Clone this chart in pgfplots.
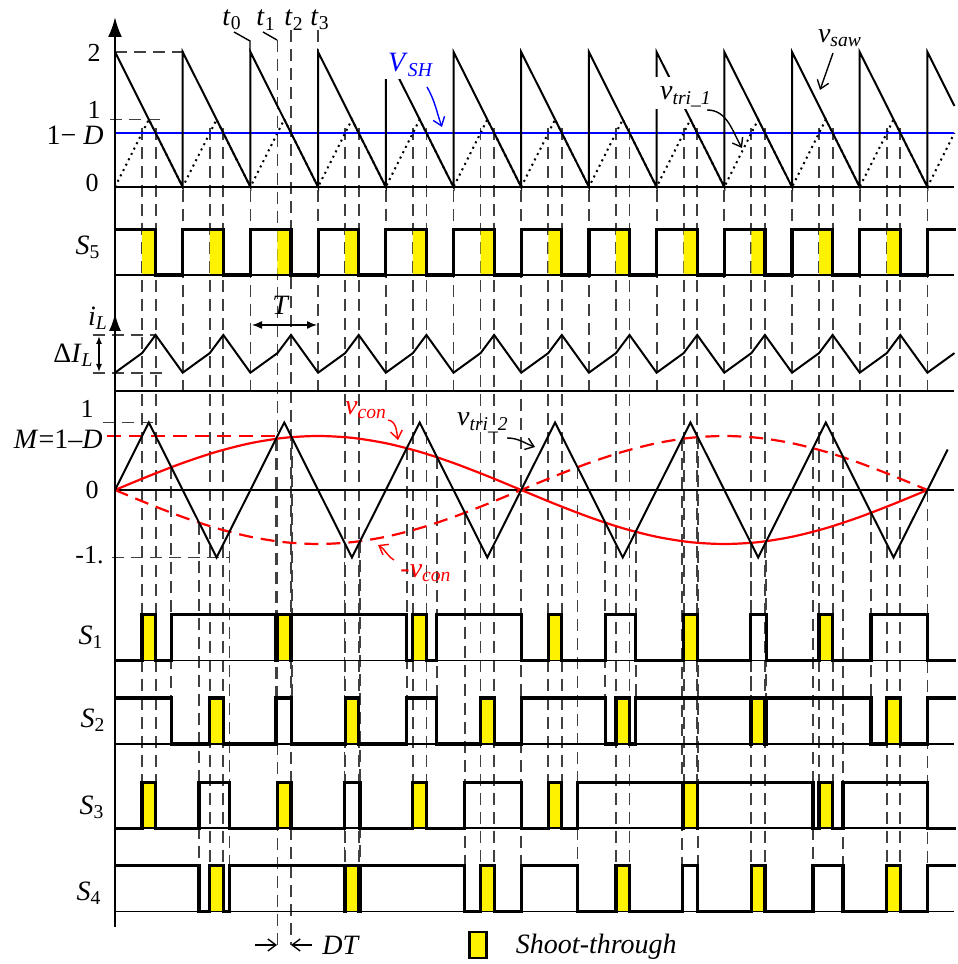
\documentclass[border=0pt]{standalone}
\usepackage{fontspec}
\setmainfont{Liberation Serif}
\usepackage{pgfplots}
\pgfplotsset{compat=1.18}
\usetikzlibrary{arrows.meta}
\pgfplotsset{
  saw/.style={y filter/.expression={-187+67.5*y}},
  sfive/.style={y filter/.expression={-275+45.7*y}},
  il/.style={y filter/.expression={-372.7+37.7*y}},
  tri/.style={y filter/.expression={-490+67.5*y}},
  sone/.style={y filter/.expression={-660.7+46*y}},
  stwo/.style={y filter/.expression={-744+46*y}},
  sthree/.style={y filter/.expression={-828.3+46*y}},
  sfour/.style={y filter/.expression={-911.7+46*y}},
  guide/.style={black!75, line width=0.9pt, dash pattern=on 6pt off 3.5pt},
  wave/.style={black, line width=1.6pt},
  st/.style={fill=yellow, draw=none},
  base/.style={black, line width=0.8pt},
}
\tikzset{
  lab/.style={font=\fontsize{14}{16}\selectfont, inner sep=0pt},
  num/.style={font=\fontsize{13}{15}\selectfont, inner sep=0pt},
  ann/.style={line width=0.7pt, -{Straight Barb[length=4pt,width=6pt]}},
}
\begin{document}
\begin{tikzpicture}
\begin{axis}[
  width=478pt, height=482pt, scale only axis,
  xmin=0, xmax=956, ymin=-964, ymax=0,
  hide axis, clip=false, no markers,
  x filter/.expression={115+67.7*x},
  unbounded coords=jump,
  legend style={at={(0.4895,0.0197)}, anchor=west, draw=none, fill=none, inner sep=0pt,
    font=\fontsize{14}{16}\selectfont\itshape,
    /tikz/every odd column/.append style={column sep=12pt}},
]
\addlegendimage{legend image code/.code={\draw[fill=yellow, line width=1.3pt] (0pt,-6.5pt) rectangle (8.5pt,6.5pt);}}
\addlegendentry{Shoot-through}

% ---------- dashed guide lines (x in T, y in px) ----------
\addplot[guide] coordinates {
(0.4,-128)(0.4,-828.3)(0.4,nan)
(0.6,-128)(0.6,-828.3)(0.6,nan)
(1.4,-128)(1.4,-911.7)(1.4,nan)
(1.6,-128)(1.6,-911.7)(1.6,nan)
(2.4,-40)(2.4,-945)(2.4,nan)
(2.6,-30)(2.6,-945)(2.6,nan)
(3.4,-128)(3.4,-911.7)(3.4,nan)
(3.6,-128)(3.6,-911.7)(3.6,nan)
(4.4,-128)(4.4,-828.3)(4.4,nan)
(4.6,-128)(4.6,-828.3)(4.6,nan)
(5.4,-128)(5.4,-911.7)(5.4,nan)
(5.6,-128)(5.6,-911.7)(5.6,nan)
(6.4,-128)(6.4,-828.3)(6.4,nan)
(6.6,-128)(6.6,-828.3)(6.6,nan)
(7.4,-128)(7.4,-911.7)(7.4,nan)
(7.6,-128)(7.6,-911.7)(7.6,nan)
(8.4,-128)(8.4,-828.3)(8.4,nan)
(8.6,-128)(8.6,-828.3)(8.6,nan)
(9.4,-128)(9.4,-911.7)(9.4,nan)
(9.6,-128)(9.6,-911.7)(9.6,nan)
(10.4,-128)(10.4,-828.3)(10.4,nan)
(10.6,-128)(10.6,-828.3)(10.6,nan)
(11.4,-128)(11.4,-911.7)(11.4,nan)
(11.6,-128)(11.6,-911.7)(11.6,nan)
(1,-190)(1,-391)(1,nan)
(2,-190)(2,-391)(2,nan)
(3,-30)(3,-52)(3,nan)
(3,-190)(3,-391)(3,nan)
(4,-190)(4,-391)(4,nan)
(5,-190)(5,-391)(5,nan)
(6,-190)(6,-911.7)(6,nan)
(7,-190)(7,-391)(7,nan)
(8,-190)(8,-391)(8,nan)
(9,-190)(9,-391)(9,nan)
(10,-190)(10,-391)(10,nan)
(11,-190)(11,-391)(11,nan)
(12,-190)(12,-391)(12,nan)
(12,-490)(12,-911.7)(12,nan)
(0.831,-467.3)(0.831,-744)(0.831,nan)
(2.379,-438.8)(2.379,-744)(2.379,nan)
(2.609,-437.1)(2.609,-744)(2.609,nan)
(4.31,-448.2)(4.31,-744)(4.31,nan)
(4.753,-457.2)(4.753,-744)(4.753,nan)
(7.242,-522.7)(7.242,-744)(7.242,nan)
(7.69,-531.9)(7.69,-744)(7.69,nan)
(9.391,-542.9)(9.391,-744)(9.391,nan)
(9.618,-541.1)(9.618,-744)(9.618,nan)
(11.168,-512.7)(11.168,-744)(11.168,nan)
(1.242,-522.7)(1.242,-911.7)(1.242,nan)
(1.69,-531.9)(1.69,-911.7)(1.69,nan)
(3.391,-542.9)(3.391,-911.7)(3.391,nan)
(3.618,-541.1)(3.618,-911.7)(3.618,nan)
(5.168,-512.7)(5.168,-911.7)(5.168,nan)
(6.831,-467.3)(6.831,-911.7)(6.831,nan)
(8.379,-438.8)(8.379,-911.7)(8.379,nan)
(8.609,-437.1)(8.609,-911.7)(8.609,nan)
(10.31,-448.2)(10.31,-911.7)(10.31,nan)
(10.753,-457.2)(10.753,-911.7)
};

% ---------- top panel: v_saw, v_tri_1, V_SH ----------
\addplot[saw, guide] coordinates {(0,2)(1.108,2)};
\addplot[saw, guide] coordinates {(-0.074,1)(0.694,1)};
\addplot[saw, black, line width=1.4pt] coordinates {(0,0)(12.4,0)};
\addplot[saw, black, line width=1pt, dotted] coordinates {
(0,0)(0.5,1)(1,0)(1.5,1)(2,0)(2.5,1)(3,0)(3.5,1)(4,0)(4.5,1)(5,0)(5.5,1)(6,0)(6.5,1)
(7,0)(7.5,1)(8,0)(8.5,1)(9,0)(9.5,1)(10,0)(10.5,1)(11,0)(11.5,1)(12,0)(12.4,0.8)};
\addplot[saw, blue, line width=1.3pt] coordinates {(0,0.8)(12.4,0.8)};
\addplot[saw, black, line width=1pt] coordinates {
(0,2)(1,0)(1,2)(2,0)(2,2)(3,0)(3,2)(4,0)(4,2)(5,0)(5,2)(6,0)(6,2)(7,0)(7,2)(8,0)
(8,2)(9,0)(9,2)(10,0)(10,2)(11,0)(11,2)(12,0)(12,2)(12.4,1.2)};

% ---------- S5 ----------
\addplot[sfive, st] coordinates {
(0,0)(0.4,0)(0.4,1)(0.6,1)(0.6,0)(1.4,0)(1.4,1)(1.6,1)(1.6,0)(2.4,0)(2.4,1)(2.6,1)(2.6,0)
(3.4,0)(3.4,1)(3.6,1)(3.6,0)(4.4,0)(4.4,1)(4.6,1)(4.6,0)(5.4,0)(5.4,1)(5.6,1)(5.6,0)
(6.4,0)(6.4,1)(6.6,1)(6.6,0)(7.4,0)(7.4,1)(7.6,1)(7.6,0)(8.4,0)(8.4,1)(8.6,1)(8.6,0)
(9.4,0)(9.4,1)(9.6,1)(9.6,0)(10.4,0)(10.4,1)(10.6,1)(10.6,0)(11.4,0)(11.4,1)(11.6,1)(11.6,0)};
\addplot[sfive, base] coordinates {(0,0)(12.4,0)};
\addplot[sfive, wave] coordinates {
(0,1)(0.6,1)(0.6,0)(1,0)(1,1)(1.6,1)(1.6,0)(2,0)(2,1)(2.6,1)(2.6,0)(3,0)(3,1)(3.6,1)(3.6,0)
(4,0)(4,1)(4.6,1)(4.6,0)(5,0)(5,1)(5.6,1)(5.6,0)(6,0)(6,1)(6.6,1)(6.6,0)(7,0)(7,1)(7.6,1)(7.6,0)
(8,0)(8,1)(8.6,1)(8.6,0)(9,0)(9,1)(9.6,1)(9.6,0)(10,0)(10,1)(10.6,1)(10.6,0)(11,0)(11,1)(11.6,1)(11.6,0)
(12,0)(12,1)(12.42,1)};

% ---------- i_L ----------
\addplot[il, guide] coordinates {(-0.325,1)(0.6,1)};
\addplot[il, guide] coordinates {(-0.325,0)(0.709,0)};
\addplot[black, line width=1.2pt] coordinates {(0,-391)(12.4,-391)};
\addplot[il, black, line width=1pt] coordinates {
(0,0)(0.4,0.52)(0.6,1)(1,0)(1.4,0.52)(1.6,1)(2,0)(2.4,0.52)(2.6,1)(3,0)(3.4,0.52)(3.6,1)
(4,0)(4.4,0.52)(4.6,1)(5,0)(5.4,0.52)(5.6,1)(6,0)(6.4,0.52)(6.6,1)(7,0)(7.4,0.52)(7.6,1)
(8,0)(8.4,0.52)(8.6,1)(9,0)(9.4,0.52)(9.6,1)(10,0)(10.4,0.52)(10.6,1)(11,0)(11.4,0.52)(11.6,1)
(12,0)(12.4,0.52)};

% ---------- v_tri_2, v_con, -v_con ----------
\addplot[tri, guide] coordinates {(-0.177,1)(0.62,1)};
\addplot[tri, guide] coordinates {(-0.044,-1)(1.699,-1)};
\addplot[tri, red, line width=1pt, dash pattern=on 7pt off 4pt] coordinates {(-0.118,0.8)(2.44,0.8)};
\addplot[tri, black, line width=1.2pt] coordinates {(0,0)(12.4,0)};
\addplot[tri, red, line width=1.1pt, smooth] coordinates {
(0,0)(0.5,0.207)(1,0.4)(1.5,0.566)(2,0.693)(2.5,0.773)(3,0.8)(3.5,0.773)(4,0.693)(4.5,0.566)
(5,0.4)(5.5,0.207)(6,0)(6.5,-0.207)(7,-0.4)(7.5,-0.566)(8,-0.693)(8.5,-0.773)(9,-0.8)
(9.5,-0.773)(10,-0.693)(10.5,-0.566)(11,-0.4)(11.5,-0.207)(12,0)};
\addplot[tri, red, line width=1.1pt, smooth, dash pattern=on 7pt off 4pt] coordinates {
(0,0)(0.5,-0.207)(1,-0.4)(1.5,-0.566)(2,-0.693)(2.5,-0.773)(3,-0.8)(3.5,-0.773)(4,-0.693)(4.5,-0.566)
(5,-0.4)(5.5,-0.207)(6,0)(6.5,0.207)(7,0.4)(7.5,0.566)(8,0.693)(8.5,0.773)(9,0.8)
(9.5,0.773)(10,0.693)(10.5,0.566)(11,0.4)(11.5,0.207)(12,0)};
\addplot[tri, black, line width=1pt] coordinates {
(0,0)(0.5,1)(1.5,-1)(2.5,1)(3.5,-1)(4.5,1)(5.5,-1)(6.5,1)(7.5,-1)(8.5,1)(9.5,-1)(10.5,1)(11.5,-1)(12.3,0.6)};

% ---------- S1 ----------
\addplot[sone, st] coordinates {
(0.4,0)(0.4,1)(0.6,1)(0.6,0)(2.4,0)(2.4,1)(2.6,1)(2.6,0)(4.4,0)(4.4,1)(4.6,1)(4.6,0)
(6.4,0)(6.4,1)(6.6,1)(6.6,0)(8.4,0)(8.4,1)(8.6,1)(8.6,0)(10.4,0)(10.4,1)(10.6,1)(10.6,0)};
\addplot[sone, base] coordinates {(0,0)(12.4,0)};
\addplot[sone, wave] coordinates {
(0,0)(0.4,0)(0.4,1)(0.6,1)(0.6,0)(0.831,0)(0.831,1)(2.379,1)(2.379,0)(2.4,0)(2.4,1)(2.6,1)(2.6,0)
(2.609,0)(2.609,1)(4.31,1)(4.31,0)(4.4,0)(4.4,1)(4.6,1)(4.6,0)(4.753,0)(4.753,1)(6,1)(6,0)
(6.4,0)(6.4,1)(6.6,1)(6.6,0)(7.242,0)(7.242,1)(7.69,1)(7.69,0)(8.4,0)(8.4,1)(8.6,1)(8.6,0)
(9.391,0)(9.391,1)(9.618,1)(9.618,0)(10.4,0)(10.4,1)(10.6,1)(10.6,0)(11.168,0)(11.168,1)(12,1)(12,0)(12.42,0)};

% ---------- S2 ----------
\addplot[stwo, st] coordinates {
(1.4,0)(1.4,1)(1.6,1)(1.6,0)(3.4,0)(3.4,1)(3.6,1)(3.6,0)(5.4,0)(5.4,1)(5.6,1)(5.6,0)
(7.4,0)(7.4,1)(7.6,1)(7.6,0)(9.4,0)(9.4,1)(9.6,1)(9.6,0)(11.4,0)(11.4,1)(11.6,1)(11.6,0)};
\addplot[stwo, base] coordinates {(0,0)(12.4,0)};
\addplot[stwo, wave] coordinates {
(0,1)(0.831,1)(0.831,0)(1.4,0)(1.4,1)(1.6,1)(1.6,0)(2.379,0)(2.379,1)(2.609,1)(2.609,0)
(3.4,0)(3.4,1)(3.6,1)(3.6,0)(4.31,0)(4.31,1)(4.753,1)(4.753,0)(5.4,0)(5.4,1)(5.6,1)(5.6,0)
(6,0)(6,1)(7.242,1)(7.242,0)(7.4,0)(7.4,1)(7.6,1)(7.6,0)(7.69,0)(7.69,1)(9.391,1)(9.391,0)
(9.4,0)(9.4,1)(9.6,1)(9.6,0)(9.618,0)(9.618,1)(11.168,1)(11.168,0)(11.4,0)(11.4,1)(11.6,1)(11.6,0)
(12,0)(12,1)(12.42,1)};

% ---------- S3 ----------
\addplot[sthree, st] coordinates {
(0.4,0)(0.4,1)(0.6,1)(0.6,0)(2.4,0)(2.4,1)(2.6,1)(2.6,0)(4.4,0)(4.4,1)(4.6,1)(4.6,0)
(6.4,0)(6.4,1)(6.6,1)(6.6,0)(8.4,0)(8.4,1)(8.6,1)(8.6,0)(10.4,0)(10.4,1)(10.6,1)(10.6,0)};
\addplot[sthree, base] coordinates {(0,0)(12.4,0)};
\addplot[sthree, wave] coordinates {
(0,0)(0.4,0)(0.4,1)(0.6,1)(0.6,0)(1.242,0)(1.242,1)(1.69,1)(1.69,0)(2.4,0)(2.4,1)(2.6,1)(2.6,0)
(3.391,0)(3.391,1)(3.618,1)(3.618,0)(4.4,0)(4.4,1)(4.6,1)(4.6,0)(5.168,0)(5.168,1)(6,1)(6,0)
(6.4,0)(6.4,1)(6.6,1)(6.6,0)(6.831,0)(6.831,1)(8.379,1)(8.379,0)(8.4,0)(8.4,1)(8.6,1)(8.6,0)
(8.609,0)(8.609,1)(10.31,1)(10.31,0)(10.4,0)(10.4,1)(10.6,1)(10.6,0)(10.753,0)(10.753,1)(12,1)(12,0)(12.42,0)};

% ---------- S4 ----------
\addplot[sfour, st] coordinates {
(1.4,0)(1.4,1)(1.6,1)(1.6,0)(3.4,0)(3.4,1)(3.6,1)(3.6,0)(5.4,0)(5.4,1)(5.6,1)(5.6,0)
(7.4,0)(7.4,1)(7.6,1)(7.6,0)(9.4,0)(9.4,1)(9.6,1)(9.6,0)(11.4,0)(11.4,1)(11.6,1)(11.6,0)};
\addplot[sfour, base] coordinates {(0,0)(12.4,0)};
\addplot[sfour, wave] coordinates {
(0,1)(1.242,1)(1.242,0)(1.4,0)(1.4,1)(1.6,1)(1.6,0)(1.69,0)(1.69,1)(3.391,1)(3.391,0)
(3.4,0)(3.4,1)(3.6,1)(3.6,0)(3.618,0)(3.618,1)(5.168,1)(5.168,0)(5.4,0)(5.4,1)(5.6,1)(5.6,0)
(6,0)(6,1)(6.831,1)(6.831,0)(7.4,0)(7.4,1)(7.6,1)(7.6,0)(8.379,0)(8.379,1)(8.609,1)(8.609,0)
(9.4,0)(9.4,1)(9.6,1)(9.6,0)(10.31,0)(10.31,1)(10.753,1)(10.753,0)(11.4,0)(11.4,1)(11.6,1)(11.6,0)
(12,0)(12,1)(12.42,1)};

% ---------- axes arrows ----------
\draw[line width=1.2pt, -{Latex[length=10pt,width=7pt]}] (115,-927) -- (115,-17);
\draw[line width=1.2pt, -{Latex[length=9pt,width=6pt]}] (115,-340) -- (115,-313);

% ---------- masks under labels ----------
\fill[white] (383,-46) rectangle (437,-79);
\fill[white] (651,-77) rectangle (716,-109);

% ---------- labels ----------
\node[num, anchor=east] at (101,-53) {2};
\node[num, anchor=east] at (101,-110) {1};
\node[lab, anchor=east] at (104,-135) {1− \textit{D}};
\node[num, anchor=east] at (99,-183) {0};
\node[lab] at (88,-247) {\textit{S}\textsubscript{5}};
\node[lab] at (98,-318) {\textit{i}\textsubscript{\textit{L}}};
\node[lab, anchor=east] at (94,-355) {Δ\textit{I}\textsubscript{\textit{L}}};
\node[num, anchor=east] at (94,-409) {1};
\node[lab, anchor=east] at (103,-439) {\textit{M}=1–\textit{D}};
\node[num, anchor=east] at (99,-490) {0};
\node[num, anchor=east] at (104,-555) {-1.};
\node[lab] at (91,-637) {\textit{S}\textsubscript{1}};
\node[lab] at (93,-720) {\textit{S}\textsubscript{2}};
\node[lab] at (92,-807) {\textit{S}\textsubscript{3}};
\node[lab] at (89,-893) {\textit{S}\textsubscript{4}};

\node[lab] at (232,-20) {\textit{t}\textsubscript{0}};
\node[lab] at (266,-20) {\textit{t}\textsubscript{1}};
\node[lab] at (294,-20) {\textit{t}\textsubscript{2}};
\node[lab] at (320,-20) {\textit{t}\textsubscript{3}};
\draw[line width=0.7pt] (234,-32) -- (250,-41) -- (250,-52);
\draw[line width=0.7pt] (263,-32) -- (277,-40);

\node[lab, blue] at (411,-65) {\textit{V}\textsubscript{\textit{SH}}};
\draw[ann, blue] (427,-87) to[out=-60,in=110] (442,-127);
\node[lab] at (840,-38) {\textit{v}\textsubscript{\textit{saw}}};
\draw[ann] (833,-53) -- (820,-90);
\node[lab] at (686,-97) {\textit{v}\textsubscript{\textit{tri\_1}}};
\draw[ann] (707,-110) to[out=0,in=120] (742,-148);

\node[lab] at (281,-305) {\textit{T}};
\draw[line width=0.7pt, {Latex[length=5pt,width=4pt]}-{Latex[length=5pt,width=4pt]}] (252,-325) -- (317,-325);
\draw[line width=0.7pt, {Latex[length=4pt,width=3pt]}-{Latex[length=4pt,width=3pt]}] (99,-336) -- (99,-372);

\node[lab, red] at (366,-410) {\textit{v}\textsubscript{\textit{con}}};
\draw[ann, red] (388,-420) to[out=-10,in=100] (398,-440);
\node[lab, red] at (426,-573) {-\textit{v}\textsubscript{\textit{con}}};
\draw[ann, red] (394,-560) to[out=150,in=-30] (378,-545);
\node[lab] at (483,-423) {\textit{v}\textsubscript{\textit{tri\_2}}};
\draw[ann] (507,-438) to[out=0,in=160] (535,-447);

\draw[ann] (255,-945) -- (277,-945);
\draw[ann] (312,-945) -- (291,-945);
\node[lab, anchor=west] at (322,-945) {\textit{DT}};

\path (0,-964) rectangle (956,0);
\end{axis}
\end{tikzpicture}
\end{document}
